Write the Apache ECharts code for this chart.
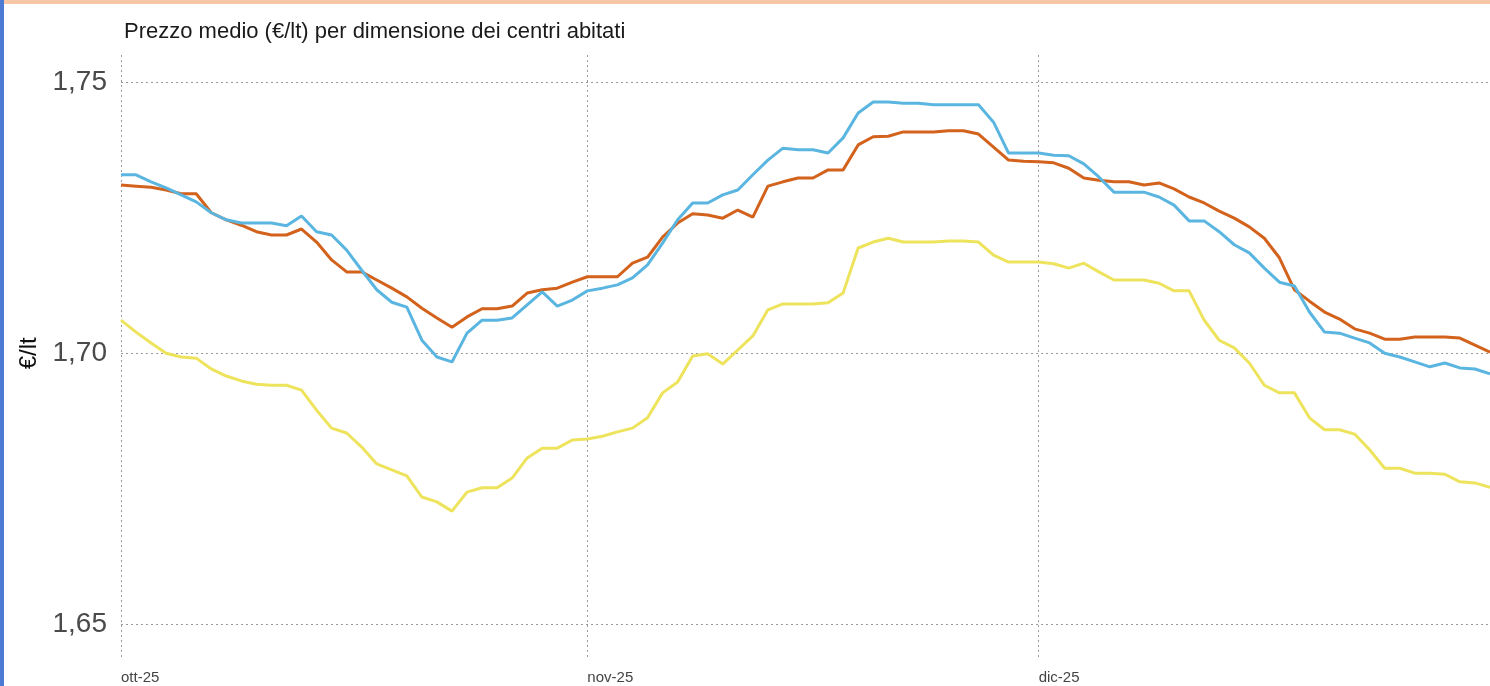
<!DOCTYPE html>
<html>
<head>
<meta charset="utf-8">
<script src="https://cdn.jsdelivr.net/npm/echarts@6/dist/echarts.min.js"></script>
<style>
  html, body { margin: 0; padding: 0; background: #ffffff; }
  #chart { width: 1490px; height: 686px; }
</style>
</head>
<body>
<div id="chart"></div>
<script>
// ---- Data ----
const startDate = '2025-10-01';
const dayCount = 92; // 1 Oct 2025 .. 31 Dec 2025
const monthTickLabels = { '2025-10-01': 'ott-25', '2025-11-01': 'nov-25', '2025-12-01': 'dic-25' };
const yTickValues = [1.65, 1.70, 1.75];

const blueValues = [
  1.7329, 1.7329, 1.7316, 1.7305, 1.7292, 1.7279, 1.7259, 1.7246, 1.7240, 1.7240,
  1.7240, 1.7235, 1.7253, 1.7224, 1.7218, 1.7190, 1.7153, 1.7117, 1.7094, 1.7085,
  1.7024, 1.6993, 1.6984, 1.7037, 1.7061, 1.7061, 1.7065, 1.7089, 1.7113, 1.7087,
  1.7098, 1.7115, 1.7120, 1.7126, 1.7139, 1.7163, 1.7203, 1.7246, 1.7277, 1.7277,
  1.7292, 1.7301, 1.7329, 1.7356, 1.7378, 1.7375, 1.7375, 1.7369, 1.7397, 1.7443,
  1.7463, 1.7463, 1.7461, 1.7461, 1.7458, 1.7458, 1.7458, 1.7458, 1.7426, 1.7369,
  1.7369, 1.7369, 1.7365, 1.7364, 1.7349, 1.7325, 1.7297, 1.7297, 1.7297, 1.7288,
  1.7273, 1.7244, 1.7244, 1.7224, 1.7200, 1.7185, 1.7157, 1.7131, 1.7124, 1.7076,
  1.7039, 1.7037, 1.7028, 1.7019, 1.7000, 1.6993, 1.6984, 1.6975, 1.6982, 1.6973,
  1.6971, 1.6962
];

const orangeValues = [
  1.7310, 1.7308, 1.7306, 1.7301, 1.7294, 1.7294, 1.7259, 1.7246, 1.7236, 1.7224,
  1.7218, 1.7218, 1.7229, 1.7205, 1.7172, 1.7150, 1.7150, 1.7135, 1.7120, 1.7104,
  1.7083, 1.7065, 1.7048, 1.7067, 1.7082, 1.7082, 1.7087, 1.7111, 1.7117, 1.7120,
  1.7131, 1.7141, 1.7141, 1.7141, 1.7166, 1.7177, 1.7214, 1.7240, 1.7257, 1.7255,
  1.7249, 1.7264, 1.7251, 1.7308, 1.7316, 1.7323, 1.7323, 1.7338, 1.7338, 1.7384,
  1.7399, 1.7400, 1.7408, 1.7408, 1.7408, 1.7410, 1.7410, 1.7404, 1.7380, 1.7356,
  1.7354, 1.7353, 1.7351, 1.7341, 1.7323, 1.7319, 1.7316, 1.7316, 1.7310, 1.7314,
  1.7303, 1.7288, 1.7277, 1.7262, 1.7249, 1.7233, 1.7212, 1.7176, 1.7117, 1.7096,
  1.7076, 1.7063, 1.7045, 1.7037, 1.7026, 1.7026, 1.7030, 1.7030, 1.7030, 1.7028,
  1.7015, 1.7002
];

const yellowValues = [
  1.7061, 1.7039, 1.7019, 1.7000, 1.6993, 1.6991, 1.6971, 1.6958, 1.6949, 1.6943,
  1.6941, 1.6941, 1.6932, 1.6895, 1.6862, 1.6853, 1.6827, 1.6796, 1.6785, 1.6774,
  1.6735, 1.6726, 1.6709, 1.6744, 1.6752, 1.6752, 1.6770, 1.6807, 1.6825, 1.6825,
  1.6840, 1.6842, 1.6847, 1.6855, 1.6862, 1.6881, 1.6927, 1.6947, 1.6995, 1.6999,
  1.6980, 1.7006, 1.7032, 1.7080, 1.7091, 1.7091, 1.7091, 1.7093, 1.7111, 1.7194,
  1.7205, 1.7212, 1.7205, 1.7205, 1.7205, 1.7207, 1.7207, 1.7205, 1.7181, 1.7168,
  1.7168, 1.7168, 1.7165, 1.7157, 1.7166, 1.7150, 1.7135, 1.7135, 1.7135, 1.7129,
  1.7115, 1.7115, 1.7061, 1.7024, 1.7010, 1.6982, 1.6941, 1.6927, 1.6927, 1.6881,
  1.6859, 1.6859, 1.6851, 1.6822, 1.6788, 1.6788, 1.6779, 1.6779, 1.6777, 1.6763,
  1.6761, 1.6753
];

// consecutive day categories
const categories = [];
(function () {
  const d0 = new Date(startDate + 'T00:00:00Z');
  for (let i = 0; i < dayCount; i++) {
    const d = new Date(d0.getTime() + i * 86400000);
    categories.push(d.toISOString().slice(0, 10));
  }
})();

const FONT = '"Liberation Sans", Arial, sans-serif';
const gridDash = { color: '#9a9a9a', width: 1, type: [2, 3] };
const isMonthTick = (idx, val) => Object.prototype.hasOwnProperty.call(monthTickLabels, categories[idx]);

const chart = echarts.init(document.getElementById('chart'), null, { renderer: 'canvas' });

chart.setOption({
  backgroundColor: '#ffffff',
  animation: false,
  textStyle: { fontFamily: FONT },
  title: {
    text: 'Prezzo medio (€/lt) per dimensione dei centri abitati',
    left: 119, top: 16,
    textStyle: { fontFamily: FONT, fontSize: 22, fontWeight: 'normal', color: '#1a1a1a' }
  },
  graphic: [
    { type: 'rect', left: 0, top: 0, shape: { width: 1490, height: 4 }, style: { fill: '#f8c7a6' }, z: 100 },
    { type: 'rect', left: 0, top: 0, shape: { width: 4, height: 686 }, style: { fill: '#4d7bd3' }, z: 101 }
  ],
  grid: [
    { left: 121, right: 0, top: 82, bottom: 61.5, containLabel: false },
    { left: 121, right: 0, top: 55, bottom: 26, containLabel: false }
  ],
  xAxis: [
    {
      gridIndex: 0, type: 'category', data: categories, boundaryGap: false,
      show: false
    },
    {
      gridIndex: 1, type: 'category', data: categories, boundaryGap: false,
      axisLine: { show: false }, axisTick: { show: false },
      splitLine: { show: true, interval: isMonthTick, lineStyle: gridDash },
      axisLabel: {
        show: true, interval: isMonthTick, align: 'left', margin: 10,
        fontFamily: FONT, fontSize: 15, color: '#444444',
        formatter: (v) => monthTickLabels[v] || ''
      }
    }
  ],
  yAxis: [
    {
      gridIndex: 0, type: 'value', min: 1.65, max: 1.75, interval: 0.05,
      axisLine: { show: false }, axisTick: { show: false },
      splitLine: { show: true, lineStyle: gridDash },
      axisLabel: {
        margin: 14, fontFamily: FONT, fontSize: 28, color: '#4a4a4a',
        formatter: (v) => {
          const hit = yTickValues.find(t => Math.abs(t - v) < 1e-6);
          return hit === undefined ? '' : hit.toFixed(2).replace('.', ',');
        }
      },
      name: '€/lt', nameLocation: 'middle', nameGap: 76, nameRotate: 90,
      nameTextStyle: { fontFamily: FONT, fontSize: 24, color: '#111111' }
    },
    {
      gridIndex: 1, type: 'value', min: 0, max: 1, show: false,
      splitLine: { show: false }
    }
  ],
  series: [
    {
      name: 'Yellow', type: 'line', xAxisIndex: 0, yAxisIndex: 0, data: yellowValues,
      showSymbol: false, symbol: 'none', lineStyle: { color: '#ede35c', width: 3 }, itemStyle: { color: '#ede35c' }, z: 3
    },
    {
      name: 'Orange', type: 'line', xAxisIndex: 0, yAxisIndex: 0, data: orangeValues,
      showSymbol: false, symbol: 'none', lineStyle: { color: '#d2621c', width: 3 }, itemStyle: { color: '#d2621c' }, z: 4
    },
    {
      name: 'Blue', type: 'line', xAxisIndex: 0, yAxisIndex: 0, data: blueValues,
      showSymbol: false, symbol: 'none', lineStyle: { color: '#5ab6e0', width: 3 }, itemStyle: { color: '#5ab6e0' }, z: 5
    }
  ]
});
</script>
</body>
</html>
